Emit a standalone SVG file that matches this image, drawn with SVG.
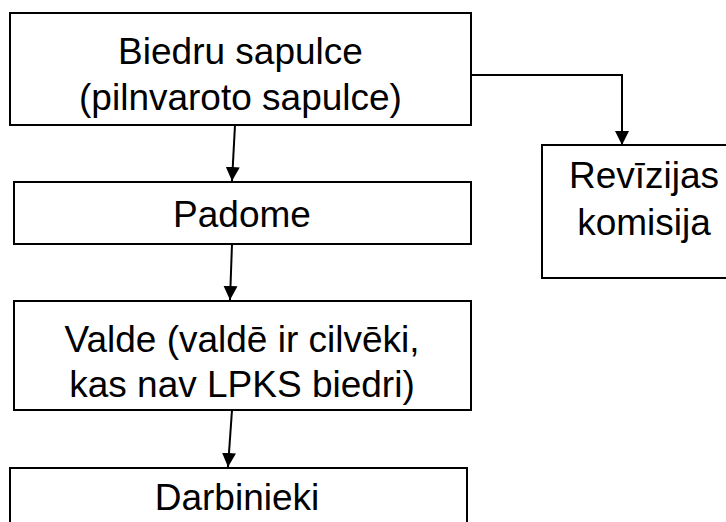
<svg xmlns="http://www.w3.org/2000/svg" width="726" height="522" viewBox="0 0 726 522">
<style>
.box{fill:#fff;stroke:#000;stroke-width:2}
.t{font-family:"Liberation Sans",Arial,sans-serif;font-size:37px;fill:#000;text-anchor:middle}
.c{fill:none;stroke:#000;stroke-width:2}
</style>
<defs>
<marker id="ah" markerUnits="userSpaceOnUse" markerWidth="14" markerHeight="15" refX="14" refY="7" orient="auto" viewBox="0 0 14 14">
<path d="M0,0 L14,7 L0,14 Z" fill="#000"/>
</marker>
</defs>
<rect width="726" height="522" fill="#fff"/>
<g id="connectors">
<path class="c" d="M235,125 L232,181" marker-end="url(#ah)"/>
<path class="c" d="M232,244 L230,300" marker-end="url(#ah)"/>
<path class="c" d="M232,410 L228,467" marker-end="url(#ah)"/>
<path class="c" d="M471,75 L622,75 L622,145" marker-end="url(#ah)"/>
</g>
<g id="biedru">
<rect class="box" x="10" y="13" width="461" height="112"/>
<text class="t" x="240.5" y="64">Biedru sapulce</text>
<text class="t" x="240.5" y="110">(pilnvaroto sapulce)</text>
</g>
<g id="padome">
<rect class="box" x="14" y="182" width="457" height="62"/>
<text class="t" x="242" y="227">Padome</text>
</g>
<g id="valde">
<rect class="box" x="14" y="301" width="457" height="109"/>
<text class="t" x="242" y="352">Valde (valdē ir cilvēki,</text>
<text class="t" x="242" y="397">kas nav LPKS biedri)</text>
</g>
<g id="darbinieki">
<rect class="box" x="10" y="468" width="457" height="70"/>
<text class="t" x="237" y="510">Darbinieki</text>
</g>
<g id="revizijas">
<rect class="box" x="542" y="145" width="204" height="133"/>
<text class="t" x="644" y="188">Revīzijas</text>
<text class="t" x="644" y="235">komisija</text>
</g>
</svg>
